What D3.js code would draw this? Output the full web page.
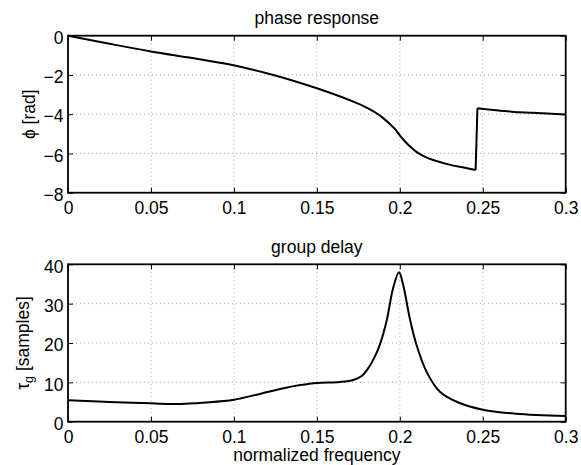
<!DOCTYPE html>
<html>
<head>
<meta charset="utf-8">
<script src="https://cdn.jsdelivr.net/npm/d3@7"></script>
<style>
  body { margin: 0; background: #fff; }
  svg { display: block; }
  text { font-family: "Liberation Sans", Arial, Helvetica, sans-serif; font-size: 17.5px; fill: #000; }
</style>
</head>
<body>
<svg id="chart" width="581" height="465"></svg>
<script>
// values
const xTicks = [0, 0.05, 0.1, 0.15, 0.2, 0.25, 0.3];
const phaseTicks = [0, -2, -4, -6, -8];
const delayTicks = [0, 10, 20, 30, 40];

// phase response, before and after the pi jump
const phaseFreqA = [0, 0.025, 0.05, 0.075, 0.0976, 0.1238, 0.15, 0.172, 0.18, 0.186, 0.19, 0.194, 0.197, 0.2, 0.203, 0.206, 0.21, 0.215, 0.221, 0.228, 0.236, 0.2457];
const phaseA     = [0, -0.41, -0.8, -1.14, -1.47, -2.0, -2.68, -3.36, -3.66, -3.95, -4.2, -4.5, -4.75, -5.08, -5.38, -5.63, -5.92, -6.16, -6.36, -6.53, -6.68, -6.84];
const phaseFreqB = [0.2468, 0.255, 0.2674, 0.28, 0.3];
const phaseB     = [-3.70, -3.77, -3.87, -3.93, -4.02];

// group delay
const delayFreq = [0, 0.025, 0.05, 0.065, 0.083, 0.1, 0.115, 0.13, 0.14, 0.15, 0.164, 0.172, 0.177, 0.181, 0.185, 0.188, 0.192, 0.196, 0.1995, 0.202, 0.206, 0.21, 0.216, 0.224, 0.236, 0.25, 0.27, 0.3];
const delay     = [5.45, 5.0, 4.67, 4.5, 4.9, 5.6, 7.0, 8.5, 9.3, 9.85, 10.1, 10.6, 11.6, 13.6, 16.6, 19.6, 25.5, 34.0, 38.0, 34.8, 26.3, 19.6, 12.8, 7.7, 4.75, 3.05, 2.03, 1.45];

const svg = d3.select('#chart');
const left = 68, right = 565.7;

const x = d3.scaleLinear().domain([0, 0.3]).range([left, right]);
const fmtX = d => String(+d.toFixed(2));

function drawPanel(top, bottom, yDomain, yTicks, title, series) {
  const y = d3.scaleLinear().domain(yDomain).range([bottom, top]);
  const g = svg.append('g');

  // dotted grid
  g.selectAll('.gx')
    .data(xTicks.slice(1, -1))
    .join('line')
    .attr('x1', d => x(d)).attr('x2', d => x(d))
    .attr('y1', top).attr('y2', bottom)
    .style('stroke', '#a8a8a8').style('stroke-dasharray', '1,3');
  g.selectAll('.gy')
    .data(yTicks.filter(d => d !== yDomain[0] && d !== yDomain[1]))
    .join('line')
    .attr('x1', left).attr('x2', right)
    .attr('y1', d => y(d)).attr('y2', d => y(d))
    .style('stroke', '#a8a8a8').style('stroke-dasharray', '1,3');

  // curves
  const smooth = d3.line()
    .x(d => x(d[0]))
    .y(d => y(d[1]))
    .curve(d3.curveCatmullRom.alpha(0.5));
  const straight = d3.line()
    .x(d => x(d[0]))
    .y(d => y(d[1]));
  series.forEach(s => {
    g.append('path')
      .attr('d', s.curve ? smooth(s.pts) : straight(s.pts))
      .style('fill', 'none')
      .style('stroke', '#000')
      .style('stroke-width', 2)
      .style('stroke-linejoin', 'round');
  });

  // axes with inward ticks
  g.append('g').attr('transform', `translate(0,${bottom})`)
    .call(d3.axisBottom(x).tickValues(xTicks).tickFormat(fmtX).tickSizeInner(-5).tickSizeOuter(0).tickPadding(8.6));
  g.append('g').attr('transform', `translate(0,${top})`)
    .call(d3.axisTop(x).tickValues(xTicks).tickFormat('').tickSizeInner(-5).tickSizeOuter(0));
  const ay = g.append('g').attr('transform', `translate(${left},0)`)
    .call(d3.axisLeft(y).tickValues(yTicks).tickFormat(d3.format('d')).tickSizeInner(-5).tickSizeOuter(0).tickPadding(4.5));
  g.append('g').attr('transform', `translate(${right},0)`)
    .call(d3.axisRight(y).tickValues(yTicks).tickFormat('').tickSizeInner(-5).tickSizeOuter(0));

  g.selectAll('.domain').remove();
  g.selectAll('.tick line').style('stroke', '#000');
  g.selectAll('.tick text')
    .attr('font-family', null).attr('font-size', null)
    .style('font-family', '"Liberation Sans", Arial, sans-serif')
    .style('font-size', '17.5px').style('fill', '#000');
  ay.selectAll('.tick text').attr('dy', '0.44em');

  g.append('rect')
    .attr('x', left).attr('y', top)
    .attr('width', right - left).attr('height', bottom - top)
    .style('fill', 'none').style('stroke', '#000').style('stroke-width', 1.8);

  svg.append('text')
    .attr('x', (left + right) / 2).attr('y', top - 11.7)
    .attr('text-anchor', 'middle')
    .text(title);
  return y;
}

const ptsA = phaseFreqA.map((f, i) => [f, phaseA[i]]);
const ptsB = phaseFreqB.map((f, i) => [f, phaseB[i]]);
drawPanel(35.7, 192.7, [-8, 0], phaseTicks, 'phase response', [
  { pts: ptsA, curve: true },
  { pts: [ptsA[ptsA.length - 1], ptsB[0]], curve: false },
  { pts: ptsB, curve: true }
]);

drawPanel(264.3, 421.7, [0, 40], delayTicks, 'group delay', [
  { pts: delayFreq.map((f, i) => [f, delay[i]]), curve: true }
]);

// axis labels
svg.append('text')
  .attr('transform', `translate(35,114.2) rotate(-90)`)
  .attr('text-anchor', 'middle')
  .text('ϕ [rad]');

const tl = svg.append('text')
  .attr('transform', `translate(29,343) rotate(-90)`)
  .attr('text-anchor', 'middle');
tl.append('tspan').text('τ');
tl.append('tspan').attr('dy', 4).style('font-size', '12.5px').text('g');
tl.append('tspan').attr('dy', -4).text(' [samples]');

svg.append('text')
  .attr('x', (left + right) / 2).attr('y', 461)
  .attr('text-anchor', 'middle')
  .text('normalized frequency');
</script>
</body>
</html>
